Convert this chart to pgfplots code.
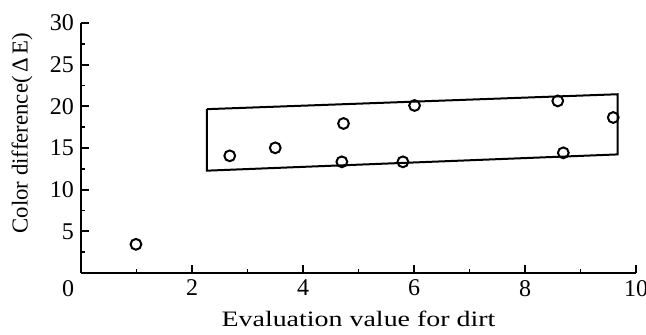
\documentclass[border=0pt]{standalone}
\usepackage{pgfplots}
\pgfplotsset{compat=1.18}
\usepackage{graphicx}
\usepackage{fontspec}
\setmainfont{Liberation Serif}
\begin{document}
\begin{tikzpicture}
\begin{axis}[
  at={(0,0)}, anchor=south west,
  scale only axis, width=277.5pt, height=125pt,
  xmin=0, xmax=10, ymin=0, ymax=30,
  axis x line*=bottom, axis y line*=left,
  axis line style={-, line width=1pt, black},
  tick align=inside,
  major tick length=3.8pt, minor tick length=2.2pt,
  every tick/.style={black, line width=0.9pt},
  xtick={0,2,...,10},
  xticklabels={\makebox[0pt][r]{0\hspace{3.5pt}},2,4,6,8,10},
  ytick={0,5,...,30},
  yticklabels={,5,10,15,20,25,30},
  minor x tick num=1, minor y tick num=1,
  ticklabel style={font=\fontsize{12}{13}\selectfont},
  xlabel={\scalebox{1.27}[1]{Evaluation value for dirt}},
  ylabel={Color difference(\,Δ\,E)},
  xlabel style={at={(axis description cs:0.5,0)}, anchor=base, yshift=-27pt, font=\fontsize{11}{13}\selectfont},
  ylabel style={at={(axis description cs:0,0.56)}, anchor=center, yshift=29.5pt, font=\fontsize{11.4}{13}\selectfont},
  clip=false,
]
\addplot[black, line width=1pt, mark=none] coordinates {
  (2.27,19.66) (9.67,21.45) (9.67,14.23) (2.27,12.28) (2.27,19.66)
};
\addplot[only marks, mark=o, mark size=2.7pt, mark options={fill=white, draw=black, line width=1pt}] coordinates {
  (0.99,3.44) (2.68,14.06) (3.50,15.02) (4.73,17.94) (4.70,13.34)
  (6.01,20.10) (5.80,13.34) (8.59,20.65) (8.69,14.42) (9.59,18.66)
};
\end{axis}
\pgfresetboundingbox
\path (-40.5pt,-31pt) rectangle (282.5pt,136.5pt);
\end{tikzpicture}
\end{document}
